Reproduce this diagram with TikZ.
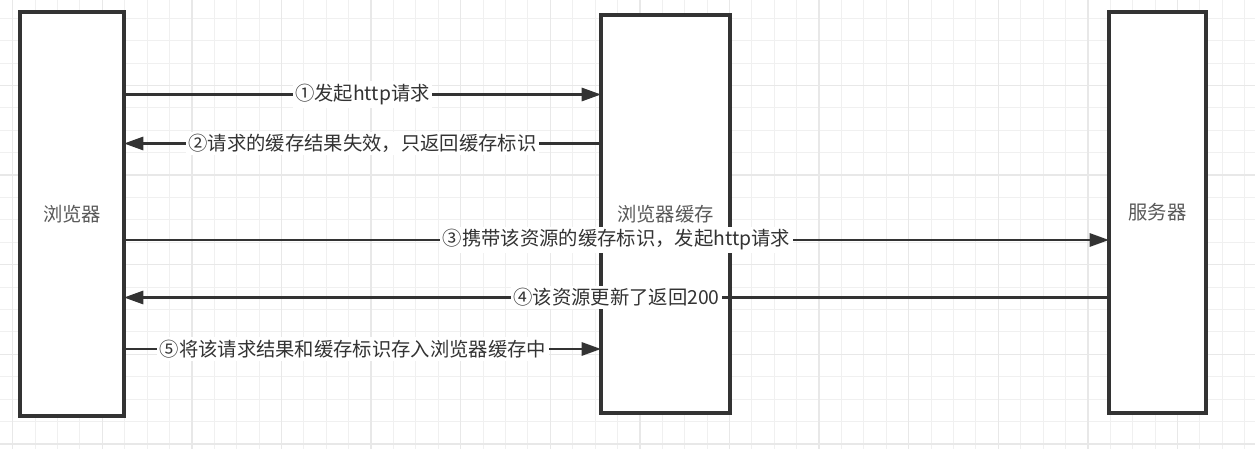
\documentclass[tikz,border=0pt]{standalone}
\usepackage{fontspec}
\setmainfont{Noto Sans CJK SC}
\usetikzlibrary{arrows.meta}
\usetikzlibrary{positioning}
\tikzset{>={Triangle[length=11pt,width=7.5pt]}}

\begin{document}
\begin{tikzpicture}[x=0.02cm, y=-0.02cm,
    lane/.style={draw=black!80, line width=1.9pt, fill=white, inner sep=0pt, outer sep=0pt, text=black!65, font=\fontsize{11pt}{13pt}\selectfont},
    msg/.style={draw=black!80, line width=1.4pt},
    lbl/.style={fill=white, text=black!80, inner sep=1.5pt, font=\fontsize{11pt}{13pt}\selectfont},
    minor/.style={draw=black!6, line width=0.6pt},
    major/.style={draw=black!9, line width=0.7pt}]
    \useasboundingbox[fill=white] (0,0) rectangle (1255,449);
    \foreach \i in {0,...,55} \draw[minor] (12.7+22.4*\i,0) -- (12.7+22.4*\i,449);
    \foreach \j in {0,...,19} \draw[minor] (0,18.3+22.4*\j) -- (1255,18.3+22.4*\j);
    \foreach \i in {0,4,...,52} \draw[major] (12.7+22.4*\i,0) -- (12.7+22.4*\i,449);
    \foreach \j in {3,7,...,19} \draw[major] (0,18.3+22.4*\j) -- (1255,18.3+22.4*\j);

    \node[lane, minimum width=2.08cm, minimum height=8.08cm] (browser) at (72,214) {浏览器};
    \node[lane, minimum width=2.58cm, minimum height=7.96cm] (cache) at (665.5,214) {浏览器缓存};
    \node[lane, minimum width=1.94cm, minimum height=8.02cm] (server) at (1157.5,212.5) {服务器};

    \coordinate (m1) at (0,94.5);
    \coordinate (m2) at (0,143.5);
    \coordinate (m3) at (0,240);
    \coordinate (m4) at (0,297.5);
    \coordinate (m5) at (0,349);

    \draw[msg,->] (browser.east |- m1) -- node[lbl] {①发起http请求} (cache.west |- m1);
    \draw[msg,<-] (browser.east |- m2) -- node[lbl] {②请求的缓存结果失效，只返回缓存标识} (cache.west |- m2);
    \draw[msg,->] (browser.east |- m3) -- node[lbl] {③携带该资源的缓存标识，发起http请求} (server.west |- m3);
    \draw[msg,<-] (browser.east |- m4) -- node[lbl] {④该资源更新了返回200} (server.west |- m4);
    \draw[msg,->] (browser.east |- m5) -- node[lbl, pos=0.48] {⑤将该请求结果和缓存标识存入浏览器缓存中} (cache.west |- m5);
\end{tikzpicture}
\end{document}
